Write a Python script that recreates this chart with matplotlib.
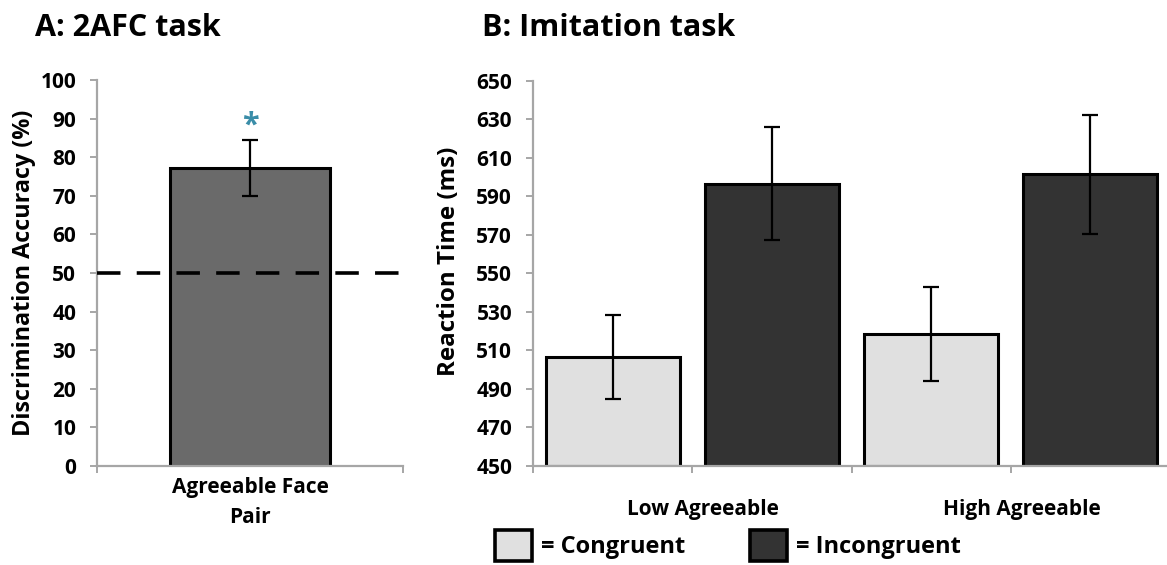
import matplotlib
matplotlib.use("Agg")
import matplotlib.pyplot as plt
import matplotlib.transforms as mtransforms
import numpy as np

# ---- data ----
accuracy_label = ["Agreeable Face\nPair"]
accuracy_mean = [77.2]
accuracy_err = [7.2]
chance_level = 50

groups = ["Low Agreeable", "High Agreeable"]
congruent_rt = [506.5, 518.3]
congruent_err = [21.8, 24.4]
incongruent_rt = [596.5, 601.4]
incongruent_err = [29.3, 30.8]

plt.rcParams["font.family"] = ["Open Sans", "DejaVu Sans"]
plt.rcParams["font.weight"] = "bold"

W, H = 1167, 565
fig = plt.figure(figsize=(W / 100, H / 100), dpi=100)

AXIS_GRAY = "#A6A6A6"
TICK_FS = 15


def style_axes(ax):
    for s in ("top", "right"):
        ax.spines[s].set_visible(False)
    for s in ("left", "bottom"):
        ax.spines[s].set_color(AXIS_GRAY)
        ax.spines[s].set_linewidth(1.6)
    ax.tick_params(axis="y", which="major", length=5, width=1.4, color=AXIS_GRAY,
                   pad=10, labelsize=TICK_FS)
    ax.tick_params(axis="x", which="major", length=5, width=1.4, color=AXIS_GRAY,
                   labelsize=TICK_FS)
    for lab in ax.get_yticklabels():
        lab.set_fontweight("bold")


def fx(px):
    return px / W


def fy(py):
    return 1 - py / H


# ---- Panel A: 2AFC discrimination accuracy ----
A_LEFT, A_RIGHT = 97, 403
axA = fig.add_axes([fx(A_LEFT), fy(466), fx(A_RIGHT) - fx(A_LEFT), fy(80) - fy(466)])
xa = np.arange(len(accuracy_mean))
axA.bar(xa, accuracy_mean, width=0.526, color="#6A6A6A", edgecolor="black",
        linewidth=2.2, zorder=2)
axA.errorbar(xa, accuracy_mean, yerr=accuracy_err, fmt="none", ecolor="black",
             elinewidth=1.6, capsize=6, capthick=1.6, zorder=3)
axA.axhline(chance_level, color="black", linewidth=2.6, dashes=(6.5, 4.5), zorder=4)
for x, m, e in zip(xa, accuracy_mean, accuracy_err):
    axA.text(x, m + e + 3.8, "*", color="#3A8DA8", fontsize=22, fontweight="bold",
             ha="center", va="center")
axA.set_xlim(-0.5, 0.5)
axA.set_ylim(0, 100)
axA.set_yticks(np.arange(0, 101, 10))
axA.set_xticks([-0.5, 0.5])
axA.set_xticklabels([])
axA.set_xticks(xa, labels=accuracy_label, minor=True)
axA.tick_params(axis="x", which="minor", length=0, pad=8, labelsize=TICK_FS)
style_axes(axA)
for lab in axA.get_xticklabels(minor=True):
    lab.set_fontweight("bold")
    lab.set_linespacing(1.55)
axA.set_ylabel("Discrimination Accuracy (%)", fontsize=16.8, fontweight="bold",
               va="center")
axA.yaxis.set_label_coords((24 - A_LEFT) / (A_RIGHT - A_LEFT), 0.5)
fig.text(fx(35), fy(28), "A: 2AFC task", fontsize=22, fontweight="bold",
         ha="left", va="center")

# ---- Panel B: imitation reaction times ----
B_LEFT, B_RIGHT = 533, 1170
axB = fig.add_axes([fx(B_LEFT), fy(466), fx(B_RIGHT) - fx(B_LEFT), fy(80.7) - fy(466)])
n = len(groups)
pos_c = np.arange(n) * 2
pos_i = pos_c + 1
bw = 0.84
bc = axB.bar(pos_c, np.array(congruent_rt) - 450, bottom=450, width=bw,
             color="#E0E0E0", edgecolor="black", linewidth=2.2, zorder=2,
             label="= Congruent")
bi = axB.bar(pos_i, np.array(incongruent_rt) - 450, bottom=450, width=bw,
             color="#333333", edgecolor="black", linewidth=2.2, zorder=2,
             label="= Incongruent")
axB.errorbar(pos_c, congruent_rt, yerr=congruent_err, fmt="none", ecolor="black",
             elinewidth=1.6, capsize=6, capthick=1.6, zorder=3)
axB.errorbar(pos_i, incongruent_rt, yerr=incongruent_err, fmt="none", ecolor="black",
             elinewidth=1.6, capsize=6, capthick=1.6, zorder=3)
axB.set_xlim(-0.5, 2 * n - 0.5)
axB.set_ylim(450, 650)
axB.set_yticks(np.arange(450, 651, 20))
ticks_b = np.arange(-0.5, 2 * n, 1.0)
labels_b = [""] * len(ticks_b)
for k, g in enumerate(groups):
    labels_b[2 * k + 1] = g
axB.set_xticks(ticks_b, labels=labels_b)
style_axes(axB)
axB.tick_params(axis="x", which="major", pad=19)
shift = mtransforms.ScaledTranslation(11 / 100, 0, fig.dpi_scale_trans)
for lab in axB.get_xticklabels():
    lab.set_fontweight("bold")
    lab.set_transform(lab.get_transform() + shift)
axB.set_ylabel("Reaction Time (ms)", fontsize=17.4, fontweight="bold", va="center")
axB.yaxis.set_label_coords((449 - B_LEFT) / (B_RIGHT - B_LEFT), 0.53)
fig.text(fx(482), fy(28), "B: Imitation task", fontsize=22, fontweight="bold",
         ha="left", va="center")

leg = fig.legend(handles=[bc, bi], loc="lower left",
                 bbox_to_anchor=(fx(481), fy(575)), ncol=2, frameon=False,
                 prop={"size": 17, "weight": "bold"}, handlelength=1.57,
                 handleheight=1.6, handletextpad=0.38, columnspacing=2.75,
                 borderpad=0.1)
for p in leg.get_patches():
    p.set_linewidth(2.6)

fig.savefig("out.png", dpi=100)
